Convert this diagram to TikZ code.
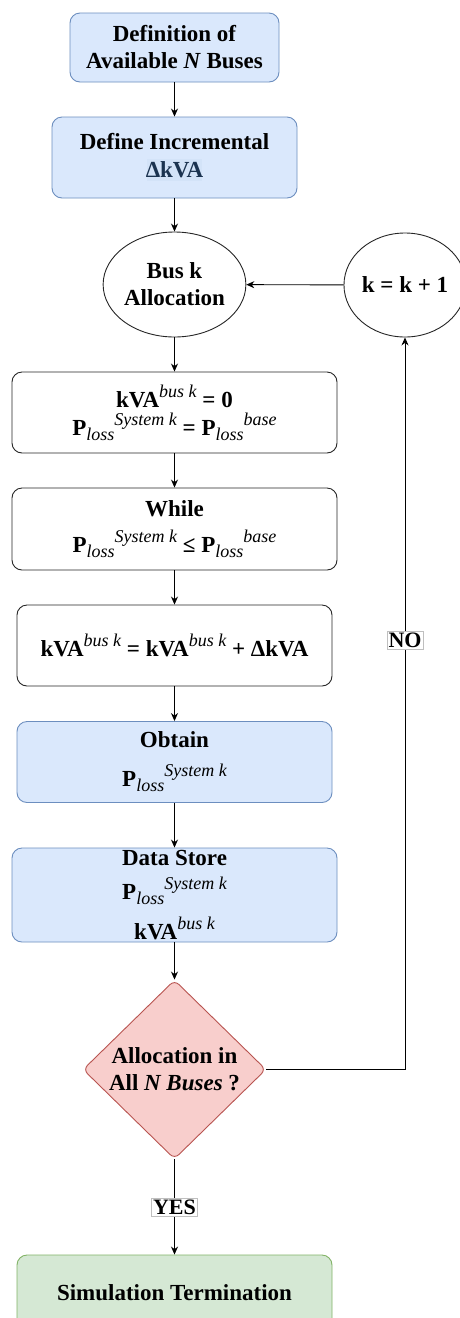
\documentclass[tikz,border=0pt]{standalone}
\usepackage{fontspec}
\setmainfont{Liberation Serif}[BoldFont={Liberation Serif Bold},ItalicFont={Liberation Serif Italic},BoldItalicFont={Liberation Serif Bold Italic}]
\usetikzlibrary{shapes.geometric,arrows.meta}
\definecolor{bfill}{HTML}{DAE8FC}
\definecolor{bdraw}{HTML}{6C8EBF}
\definecolor{rfill}{HTML}{F8CECC}
\definecolor{rdraw}{HTML}{B85450}
\definecolor{gfill}{HTML}{D5E8D4}
\definecolor{gdraw}{HTML}{82B366}
\definecolor{navy}{HTML}{1B3350}
\definecolor{dkvbg}{HTML}{D3E3F8}
\newcommand{\supi}[1]{\raisebox{10pt}{\normalfont\itshape\fontsize{18}{18}\selectfont #1}}
\newcommand{\subi}[1]{\raisebox{-5pt}{\normalfont\itshape\fontsize{18}{18}\selectfont #1}}
\newcommand{\Pl}[1]{P\subi{loss}\supi{#1}}
\tikzset{
  base/.style={align=center, font=\bfseries\fontsize{23}{27}\selectfont, line width=0.9pt, inner sep=0pt},
  bluebox/.style={base, rectangle, rounded corners=10pt, fill=bfill, draw=bdraw},
  whitebox/.style={base, rectangle, rounded corners=10pt, fill=white, draw=black!85},
  greenbox/.style={base, rectangle, rounded corners=10pt, fill=gfill, draw=gdraw},
  roundnode/.style={base, ellipse, fill=white, draw=black!85},
  decision/.style={base, diamond, rounded corners=6pt, fill=rfill, draw=rdraw},
  arr/.style={line width=0.9pt, -{Stealth[length=8pt,width=7pt]}},
  lbl/.style={font=\bfseries\fontsize{22}{24}\selectfont, fill=white, draw=black!25, line width=0.5pt, inner sep=1.5pt}
}
\begin{document}
\begin{tikzpicture}[x=1pt,y=-1pt]
\clip (0,0) rectangle (460,1318);
\fill[white] (0,0) rectangle (460,1318);

\node[bluebox, minimum width=209pt, minimum height=69pt] (b1) at (174.5,47.5)
  {Definition of\\Available \textit{N} Buses};
\node[bluebox, minimum width=245pt, minimum height=81pt] (b2) at (174.5,157.5)
  {Define Incremental\\[1pt]\colorbox{dkvbg}{\color{navy}$\!$ΔkVA$\!$}};
\node[roundnode, minimum width=123pt, minimum height=105pt] (ell) at (174.5,284.5)
  {Bus k\\Allocation};
\node[roundnode, minimum width=112pt, minimum height=104pt] (circ) at (405,285)
  {k = k + 1};
\node[whitebox, minimum width=325pt, minimum height=81pt] (b3) at (174.5,412.5)
  {kVA\supi{bus k} = 0\\[1pt]\Pl{System k} = \Pl{base}};
\node[whitebox, minimum width=325pt, minimum height=82pt] (b4) at (174.5,529)
  {While\\[9pt]\Pl{System k} ≤ \Pl{base}};
\node[whitebox, minimum width=315pt, minimum height=81pt] (b5) at (174.5,645.5)
  {kVA\supi{bus k} = kVA\supi{bus k} + ΔkVA};
\node[bluebox, minimum width=315pt, minimum height=81pt] (b6) at (174.5,762)
  {Obtain\\[12pt]\Pl{System k}};
\node[bluebox, minimum width=325pt, minimum height=94pt] (b7) at (174.5,895)
  {Data Store\\[7pt]\Pl{System k}\\[12pt]kVA\supi{bus k}};
\node[decision, minimum width=183pt, minimum height=179pt] (dia) at (174.5,1069.5)
  {Allocation in\\All \textit{N Buses} ?};
\node[greenbox, minimum width=315pt, minimum height=76pt] (fin) at (174.5,1293)
  {Simulation Termination};

\draw[arr] (b1) -- (b2);
\draw[arr] (b2) -- (ell);
\draw[arr] (circ) -- (ell);
\draw[arr] (ell) -- (b3);
\draw[arr] (b3) -- (b4);
\draw[arr] (b4) -- (b5);
\draw[arr] (b5) -- (b6);
\draw[arr] (b6) -- (b7);
\draw[arr] (b7) -- (dia);
\draw[arr] (dia.east) -| node[lbl, pos=0.793] {NO} (circ.south);
\draw[arr] (dia.south) -- node[lbl] {YES} (fin.north);
\end{tikzpicture}
\end{document}
